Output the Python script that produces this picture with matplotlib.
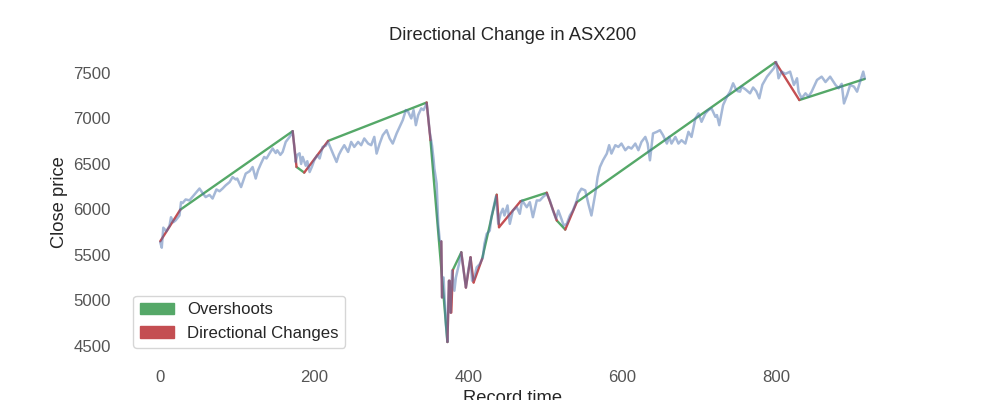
import matplotlib

matplotlib.use("Agg")
import matplotlib.patches as mpatches
import matplotlib.pyplot as plt
import numpy as np
import seaborn as sns

# ASX200 close prices (record index, price)
record_time = [
    0, 2, 4, 8, 12, 14, 17, 20, 25, 27, 29, 33, 38, 42, 47, 51, 55, 59, 64, 68,
    73, 77, 81, 85, 90, 94, 98, 100, 105, 108, 111, 116, 120, 124, 127, 131, 135, 138, 142, 146,
    150, 152, 156, 159, 163, 168, 171, 172, 174, 176, 178, 181, 183, 185, 189, 191, 194, 197, 200, 204,
    207, 211, 215, 218, 221, 225, 229, 232, 235, 239, 244, 248, 252, 257, 261, 265, 270, 274, 278, 281,
    285, 289, 294, 298, 302, 307, 311, 315, 319, 322, 326, 329, 332, 335, 339, 342, 346, 347, 350, 353,
    355, 356, 359, 361, 363, 365, 366, 368, 370, 371, 373, 374, 375, 377, 379, 382, 384, 388, 391, 394,
    397, 400, 403, 405, 408, 411, 415, 419, 421, 424, 428, 430, 433, 436, 439, 442, 445, 447, 451, 454,
    458, 463, 467, 470, 476, 480, 484, 489, 493, 497, 502, 506, 510, 514, 517, 521, 524, 528, 532, 536,
    541, 543, 547, 552, 556, 560, 565, 568, 571, 575, 580, 583, 586, 591, 595, 599, 604, 608, 612, 617,
    621, 625, 630, 633, 636, 640, 645, 649, 653, 658, 661, 664, 669, 673, 677, 682, 686, 690, 695, 699,
    703, 708, 712, 716, 721, 723, 726, 731, 736, 740, 744, 747, 750, 753, 755, 760, 766, 770, 774, 778,
    782, 788, 793, 797, 800, 803, 807, 812, 818, 823, 827, 829, 833, 838, 842, 846, 853, 859, 864, 870,
    877, 881, 885, 888, 892, 896, 901, 905, 909, 913, 915,
]
close_price = [
    5640, 5580, 5800, 5760, 5820, 5915, 5860, 5880, 5934, 6080, 6070, 6110, 6100, 6140, 6190, 6230, 6180, 6136, 6160, 6120,
    6220, 6200, 6230, 6265, 6300, 6356, 6330, 6340, 6246, 6320, 6394, 6420, 6466, 6340, 6430, 6507, 6577, 6560, 6617, 6670,
    6620, 6650, 6600, 6632, 6742, 6797, 6838, 6860, 6700, 6520, 6600, 6617, 6500, 6577, 6480, 6530, 6411, 6470, 6540, 6596,
    6560, 6687, 6700, 6742, 6680, 6600, 6522, 6600, 6650, 6706, 6632, 6742, 6687, 6742, 6706, 6780, 6724, 6706, 6797, 6614,
    6724, 6816, 6871, 6780, 6724, 6835, 6908, 6982, 7092, 7073, 7000, 7092, 6926, 7037, 7110, 7092, 7165, 7100, 6850, 6700,
    6550, 6450, 6283, 5842, 5658, 5650, 5033, 5253, 4900, 4740, 4544, 4950, 5217, 4867, 5327, 5107, 5253, 5400, 5529, 5327,
    5143, 5327, 5474, 5217, 5253, 5364, 5400, 5474, 5621, 5732, 5768, 5915, 6025, 6143, 5842, 5952, 6008, 5934, 6044, 5842,
    5989, 6025, 5952, 6099, 6025, 6080, 5915, 6099, 6099, 6136, 6173, 6099, 5989, 5897, 5989, 5897, 5823, 5842, 5934, 5989,
    6099, 6173, 6228, 6209, 6063, 5934, 6173, 6356, 6466, 6540, 6614, 6706, 6614, 6706, 6687, 6724, 6651, 6687, 6669, 6724,
    6651, 6742, 6797, 6724, 6540, 6835, 6853, 6871, 6816, 6724, 6797, 6724, 6797, 6724, 6761, 6724, 6853, 6797, 7000, 7055,
    6963, 7055, 7092, 7110, 7018, 7037, 6926, 7147, 7239, 7294, 7386, 7331, 7300, 7294, 7349, 7320, 7276, 7340, 7300, 7221,
    7370, 7459, 7510, 7552, 7620, 7441, 7514, 7490, 7514, 7368, 7441, 7294, 7221, 7276, 7239, 7294, 7423, 7459, 7400, 7459,
    7368, 7331, 7380, 7165, 7257, 7368, 7349, 7294, 7404, 7514, 7441,
]

# directional change legs (start/end record, start/end price)
dc_t0 = [0, 172, 187, 346, 365, 373, 376, 378, 391, 397, 403, 407, 437, 440, 502, 526, 799]
dc_t1 = [26, 177, 218, 351, 366, 375, 377, 380, 397, 403, 407, 418, 440, 468, 515, 541, 830]
dc_p0 = [5650, 6860, 6405, 7175, 5650, 4544, 5217, 4867, 5529, 5143, 5474, 5198, 6162, 5805, 6184, 5779, 7618]
dc_p1 = [5997, 6467, 6753, 6761, 5033, 5217, 4867, 5335, 5143, 5474, 5198, 5456, 5805, 6091, 5879, 6080, 7202]

# overshoot legs
os_t0 = [26, 177, 218, 351, 380, 418, 468, 515, 541, 830]
os_t1 = [172, 187, 346, 373, 391, 437, 502, 526, 799, 915]
os_p0 = [5997, 6467, 6753, 6761, 5335, 5456, 6091, 5879, 6080, 7202]
os_p1 = [6860, 6405, 7175, 4544, 5529, 6162, 6184, 5779, 7618, 7434]

sns.set_style("white")
plt.rcParams["font.family"] = ["Liberation Sans", "DejaVu Sans"]

pal = sns.color_palette("deep")
blue, green, red = pal[0], pal[2], pal[3]

fig, ax = plt.subplots(figsize=(10, 4), dpi=100)

for t0, t1, p0, p1 in zip(os_t0, os_t1, os_p0, os_p1):
    ax.plot([t0, t1], [p0, p1], color=green, lw=1.7)
for t0, t1, p0, p1 in zip(dc_t0, dc_t1, dc_p0, dc_p1):
    ax.plot([t0, t1], [p0, p1], color=red, lw=1.7)

ax.plot(np.array(record_time), np.array(close_price), color=blue, lw=1.8, alpha=0.5)

for side in ax.spines.values():
    side.set_visible(False)
ax.tick_params(axis="both", labelsize=12.1, labelcolor="#555555", length=0, pad=10)
ax.set_title("Directional Change in ASX200", fontsize=13.2, color="#262626")
ax.set_xlabel("Record time", fontsize=13.2, color="#262626")
ax.set_ylabel("Close price", fontsize=13.2, color="#262626")

handles = [
    mpatches.Patch(color=green, label="Overshoots"),
    mpatches.Patch(color=red, label="Directional Changes"),
]
ax.legend(handles=handles, loc="lower left", fontsize=12.1, frameon=True)

fig.savefig("out.png", dpi=100)
plt.close(fig)
